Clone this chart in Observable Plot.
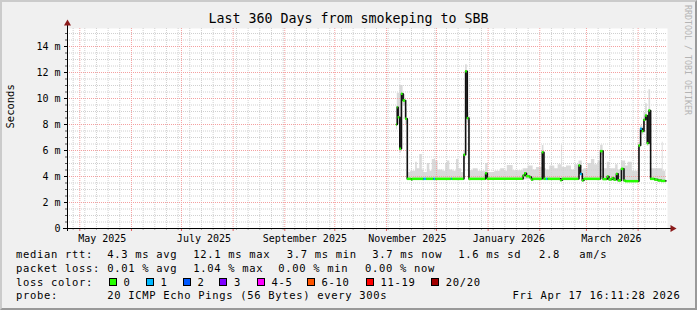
<!DOCTYPE html>
<html>
<head>
<meta charset="utf-8">
<script src="https://cdn.jsdelivr.net/npm/d3@7"></script>
<script src="https://cdn.jsdelivr.net/npm/@observablehq/plot@0.6"></script>
<style>
html, body { margin: 0; padding: 0; background: #f0f0f0; }
#frame { position: relative; width: 697px; height: 310px; background: #f0f0f0; overflow: hidden;
  font-family: "DejaVu Sans Mono", monospace; color: #000; }
#frame svg { position: absolute; left: 0; top: 0; }
.t { position: absolute; white-space: pre; line-height: 1; }
#shade { position: absolute; left: 0; top: 0; width: 697px; height: 310px; box-sizing: border-box;
  border-top: 2px solid #cbcbcb; border-left: 2px solid #cbcbcb; border-right: 2px solid #999; border-bottom: 2px solid #999; pointer-events: none; }
.box { position: absolute; width: 8px; height: 8px; box-sizing: border-box; border: 1px solid #000; }
</style>
</head>
<body>
<div id="frame"></div>
<script>
// ---------- data ----------
const titleText = "Last 360 Days from smokeping to SBB";
const yLabel = "Seconds";
const watermark = "RRDTOOL / TOBI OETIKER";

const medianDates = [
  "2025-11-07T00","2025-11-07T12","2025-11-08T00","2025-11-09T00","2025-11-10T00","2025-11-11T00","2025-11-12T12","2025-11-13T12",
  "2025-11-16T00","2025-11-16T12","2025-11-23T12","2025-11-25T00","2025-11-29T12","2025-11-30T12","2025-12-10T00","2025-12-10T12",
  "2025-12-17T12","2025-12-18T12","2025-12-19T12","2025-12-20T12","2025-12-30T12","2025-12-31T12",
  "2026-01-22T00","2026-01-23T00","2026-01-24T00","2026-01-26T00","2026-01-27T00","2026-01-28T00",
  "2026-02-02T12","2026-02-03T12","2026-02-05T00","2026-02-06T00","2026-02-13T12","2026-02-14T12",
  "2026-02-24T12","2026-02-25T12","2026-02-26T12","2026-02-27T12",
  "2026-03-09T12","2026-03-11T00","2026-03-13T12","2026-03-14T12","2026-03-16T12","2026-03-17T12","2026-03-19T00","2026-03-20T00",
  "2026-03-22T00","2026-03-23T12","2026-03-24T12",
  "2026-04-01T12","2026-04-02T12","2026-04-03T12","2026-04-04T12","2026-04-05T12","2026-04-06T12","2026-04-07T12","2026-04-08T12",
  "2026-04-11T00","2026-04-13T00","2026-04-15T00"
];
const medianMs = [
  8.0, 9.33, 8.56, 6.13, 10.36, 9.85, 8.44, 3.82,
  3.76, 3.82, 3.82, 3.82, 3.82, 3.82, 3.82, 3.82,
  5.67, 12.1, 8.49, 3.82, 4.25, 3.82,
  4.08, 4.25, 4.02, 3.95, 3.76, 3.82,
  5.87, 3.82, 3.82, 3.82, 3.72, 3.82,
  4.85, 4.2, 3.7, 3.82,
  5.95, 3.8, 4.0, 3.78, 3.88, 3.76, 4.2, 3.7,
  4.59, 3.69, 3.64,
  6.38, 7.67, 7.49, 8.36, 8.69, 6.56, 9.08, 3.82,
  3.76, 3.7, 3.66
];
const medianLoss = [
  0,0,0,0,0,0,0,0,
  0,0,1,0,1,0,1,0,
  0,0,0,0,0,0,
  0,0,0,0,0,0,
  0,0,1,0,0,0,
  0,1,0,0,
  0,0,0,0,0,0,0,0,
  0,0,0,
  0,1,0,0,0,0,0,0,
  0,0,0
];
const smokeDates = [
  "2025-11-07T00","2025-11-07T12","2025-11-08T00","2025-11-09T00","2025-11-10T00","2025-11-11T00","2025-11-12T12","2025-11-13T12",
  "2025-11-15T12","2025-11-18T12","2025-11-19T12","2025-11-21T00","2025-11-22T12","2025-11-23T12","2025-11-25T12","2025-11-27T00",
  "2025-11-28T12","2025-11-30T12","2025-12-02T00","2025-12-05T00","2025-12-06T12","2025-12-07T12","2025-12-09T00","2025-12-11T00",
  "2025-12-13T00","2025-12-14T12","2025-12-16T00","2025-12-17T12","2025-12-18T12","2025-12-19T12","2025-12-20T12",
  "2025-12-23T00","2025-12-26T00","2025-12-30T12","2026-01-01T00","2026-01-05T00","2026-01-08T12","2026-01-11T00","2026-01-12T12",
  "2026-01-16T00","2026-01-22T00","2026-01-25T00","2026-01-28T00","2026-01-30T00","2026-02-02T12","2026-02-03T12",
  "2026-02-05T00","2026-02-07T00","2026-02-10T00","2026-02-12T00","2026-02-14T00","2026-02-14T12","2026-02-17T00","2026-02-20T00",
  "2026-02-22T00","2026-02-24T12","2026-02-26T12","2026-02-27T12","2026-03-02T00","2026-03-04T00","2026-03-06T00","2026-03-08T00",
  "2026-03-09T12","2026-03-11T00","2026-03-13T12","2026-03-15T00","2026-03-18T12","2026-03-20T00","2026-03-22T00","2026-03-24T12",
  "2026-03-26T00","2026-03-28T12","2026-04-01T12","2026-04-02T12","2026-04-03T12","2026-04-04T12","2026-04-05T12","2026-04-06T12",
  "2026-04-07T12","2026-04-08T12","2026-04-15T12","2026-04-16T00"
];
const smokeTopMs = [
  9.4, 10.4, 10.4, 11.0, 11.0, 10.3, 9.2, 4.3,
  4.4, 5.1, 4.6, 5.7, 4.5, 4.3, 5.0, 4.4,
  5.3, 5.2, 4.5, 4.4, 5.0, 5.2, 4.5, 4.4,
  5.3, 4.6, 4.3, 6.0, 12.6, 8.95, 4.45,
  4.6, 4.4, 5.0, 4.3, 4.4, 4.6, 4.4, 4.85,
  4.45, 4.6, 4.8, 4.5, 4.7, 6.38, 4.6,
  4.5, 4.8, 4.6, 4.9, 6.4, 4.7, 4.8, 4.5,
  4.9, 5.2, 4.5, 4.6, 5.0, 5.3, 4.9, 5.2,
  6.4, 4.6, 5.1, 4.6, 4.9, 4.5, 5.2, 4.8,
  5.1, 4.4, 6.6, 7.9, 7.8, 8.9, 9.6, 7.0,
  10.67, 4.6, 6.64, 4.4
];
const smokeLowMs = [
  7.6, 8.8, 8.0, 5.8, 9.8, 9.4, 8.0, 3.75,
  3.75, 3.75, 3.75, 3.75, 3.75, 3.75, 3.75, 3.75,
  3.75, 3.75, 3.75, 3.75, 3.75, 3.75, 3.75, 3.75,
  3.75, 3.75, 3.75, 5.3, 11.2, 8.1, 3.75,
  3.75, 3.75, 3.75, 3.75, 3.75, 3.75, 3.75, 3.75,
  3.75, 3.75, 3.75, 3.75, 3.75, 5.5, 3.75,
  3.75, 3.75, 3.75, 3.75, 3.75, 3.75, 3.75, 3.75,
  3.75, 4.6, 3.75, 3.75, 3.75, 3.75, 3.75, 3.75,
  5.6, 3.75, 3.75, 3.75, 3.75, 3.75, 3.75, 3.6,
  3.6, 3.6, 6.0, 7.3, 7.2, 8.0, 8.4, 6.3,
  8.8, 3.72, 3.68, 3.66
];
const dataEnd = "2026-04-17T16:11:28Z";
const axisStart = "2025-04-23T15:00:00Z";
const axisEnd = "2026-04-18T15:00:00Z";
const yMaxMs = 15.385;
const yMajorTicks = [0, 2, 4, 6, 8, 10, 12, 14];
const xLabelDates = ["2025-05-14T12","2025-07-14T12","2025-09-13T00","2025-11-13T12","2026-01-13T12","2026-03-16T00"];
const xLabels = ["May 2025","July 2025","September 2025","November 2025","January 2026","March 2026"];

const medianRttLabel = "median rtt:";
const medianRttItems = ["4.3 ms avg","12.1 ms max","3.7 ms min","3.7 ms now","1.6 ms sd","2.8","am/s"];
const packetLossLabel = "packet loss:";
const packetLossItems = ["0.01 % avg","1.04 % max","0.00 % min","0.00 % now"];
const lossColorLabel = "loss color:";
const lossBins = ["0","1","2","3","4-5","6-10","11-19","20/20"];
const lossColors = ["#26ff00","#00b8ff","#0059ff","#7e00ff","#ff00ff","#ff5500","#ff0000","#a10000"];
const probeLabel = "probe:";
const probeText = "20 ICMP Echo Pings (56 Bytes) every 300s";
const stampText = "Fri Apr 17 16:11:28 2026";

// ---------- layout (positions / sizes) ----------
const L = {
  rttX: [107.3, 193.3, 286.7, 372.3, 458.3, 539, 579.3],
  lossX: [107.3, 193.3, 278.3, 365],
  binX: [108.7, 145.7, 182.7, 219.3, 256.7, 306.7, 365.7, 431],
  rowBase: [258.3, 272, 285.7, 299.3],
  leftX: 16,
  legendFont: 10.5,
  stampRight: 680.5
};

// ---------- build ----------
const T = d3.utcParse("%Y-%m-%dT%H");
const end = new Date(dataEnd);
const xStart = new Date(axisStart), xEnd = new Date(axisEnd);

const median = medianDates.map((d, i) => ({
  date: T(d), ms: medianMs[i], loss: medianLoss[i],
  next: i + 1 < medianDates.length ? T(medianDates[i + 1]) : end
}));
const medianLine = [...median, {date: end, ms: medianMs[medianMs.length - 1]}];
const smoke = smokeDates.map((d, i) => ({date: T(d), top: smokeTopMs[i], low: smokeLowMs[i]}));
smoke.push({date: end, top: smokeTopMs[smokeTopMs.length - 1], low: smokeLowMs[smokeLowMs.length - 1]});

const months = d3.utcMonth.range(xStart, xEnd);
const monthSet = new Set(months.map(d => +d));
const weeks = d3.utcSunday.range(xStart, xEnd).filter(d => !monthSet.has(+d));
const yMinor = d3.range(0.5, yMaxMs, 0.5).filter(v => v % 2 !== 0);
const labelDates = xLabelDates.map(T);
const labelMap = new Map(labelDates.map((d, i) => [+d, xLabels[i]]));

const gridMinor = "#d0d0d0", gridMajor = "#f4a0a0", arrowColor = "#8b1a1a";

const chart = Plot.plot({
  width: 697, height: 250,
  marginLeft: 67, marginRight: 30, marginTop: 28, marginBottom: 22,
  style: {background: "transparent", fontFamily: "'DejaVu Sans Mono', monospace", fontSize: "10px", overflow: "visible", color: "#000"},
  x: {type: "utc", domain: [xStart, xEnd], axis: null},
  y: {domain: [0, yMaxMs], axis: null},
  marks: [
    Plot.frame({fill: "#ffffff", stroke: "none"}),
    Plot.areaY(smoke, {x: "date", y1: "low", y2: "top", curve: "step-after", fill: "#dadada"}),
    Plot.ruleY(yMinor, {stroke: gridMinor, strokeDasharray: "1,1"}),
    Plot.ruleX(weeks, {stroke: gridMinor, strokeDasharray: "1,1"}),
    Plot.ruleY(yMajorTicks.filter(v => v > 0), {stroke: gridMajor, strokeDasharray: "1,1"}),
    Plot.ruleX(months, {stroke: gridMajor, strokeDasharray: "1,1"}),
    Plot.line(medianLine, {x: "date", y: "ms", curve: "step-after", stroke: "#111", strokeWidth: 1.6}),
    Plot.ruleY(median, {x1: "date", x2: "next", y: "ms", stroke: d => lossColors[d.loss], strokeWidth: 2.5}),
    Plot.axisY({ticks: yMinor, tickSize: 2, tickFormat: () => "", label: null, stroke: "#555"}),
    Plot.axisY({ticks: yMajorTicks, tickSize: 3, tickPadding: 4, label: null, stroke: "#000",
      tickFormat: v => v === 0 ? "0" : `${v} m`, fontSize: 10}),
    Plot.axisX({ticks: weeks, tickSize: 2, tickFormat: () => "", label: null, stroke: "#aaa"}),
    Plot.axisX({ticks: months, tickSize: 3, tickFormat: () => "", label: null, stroke: "#e06060"}),
    Plot.axisX({ticks: labelDates, tickSize: 0, tickPadding: 6.5, label: null,
      tickFormat: d => labelMap.get(+d), fontSize: 10}),
    Plot.ruleY([0], {stroke: "#000", insetLeft: -4, insetRight: -4}),
    Plot.ruleX([xStart], {stroke: "#000", insetTop: -4, insetBottom: -3}),
    Plot.dot([xEnd], {x: d => d, y: 0, symbol: "triangle", r: 2.6, rotate: 90, dx: 5, fill: arrowColor, stroke: "none"}),
    Plot.dot([xStart], {x: d => d, y: yMaxMs, symbol: "triangle", r: 2.6, dy: -5, fill: arrowColor, stroke: "none"}),
    Plot.text([yLabel], {frameAnchor: "left", dx: -57, rotate: -90, fontSize: 10.5, fill: "#000"})
  ]
});

const frame = document.getElementById("frame");
frame.appendChild(chart);

function addText(str, x, base, size, opts = {}) {
  const el = document.createElement("div");
  el.className = "t";
  el.textContent = str;
  el.style.fontSize = size + "px";
  el.style.top = (base - 0.846 * size) + "px";
  if (opts.right != null) { el.style.right = (697 - opts.right) + "px"; }
  else if (opts.center) { el.style.left = "0px"; el.style.width = "697px"; el.style.textAlign = "center"; }
  else el.style.left = x + "px";
  if (opts.ls != null) el.style.letterSpacing = opts.ls + "px";
  if (opts.color) el.style.color = opts.color;
  frame.appendChild(el);
  return el;
}

// title
addText(titleText, 0, 23.5, 13.3, {center: true});

// legend
const fs = L.legendFont, ls = 0.68;
addText(medianRttLabel, L.leftX, L.rowBase[0], fs, {ls});
medianRttItems.forEach((s, i) => addText(s, L.rttX[i], L.rowBase[0], fs, {ls}));
addText(packetLossLabel, L.leftX, L.rowBase[1], fs, {ls});
packetLossItems.forEach((s, i) => addText(s, L.lossX[i], L.rowBase[1], fs, {ls}));
addText(lossColorLabel, L.leftX, L.rowBase[2], fs, {ls});
lossBins.forEach((s, i) => {
  const b = document.createElement("div");
  b.className = "box";
  b.style.left = L.binX[i] + "px";
  b.style.top = (L.rowBase[2] - 7.4) + "px";
  b.style.background = lossColors[i];
  frame.appendChild(b);
  addText(s, L.binX[i] + 14.7, L.rowBase[2], fs, {ls});
});
addText(probeLabel, L.leftX, L.rowBase[3], fs, {ls});
addText(probeText, L.rttX[0], L.rowBase[3], fs, {ls});
addText(stampText, 0, L.rowBase[3], fs, {ls, right: L.stampRight});

// watermark
const wm = document.createElement("div");
wm.className = "t";
wm.textContent = watermark;
wm.style.fontSize = "8.3px";
wm.style.color = "#b4b4b4";
wm.style.writingMode = "vertical-rl";
wm.style.left = "683.5px";
wm.style.top = "5px";
frame.appendChild(wm);

const shade = document.createElement("div");
shade.id = "shade";
frame.appendChild(shade);
</script>
</body>
</html>
